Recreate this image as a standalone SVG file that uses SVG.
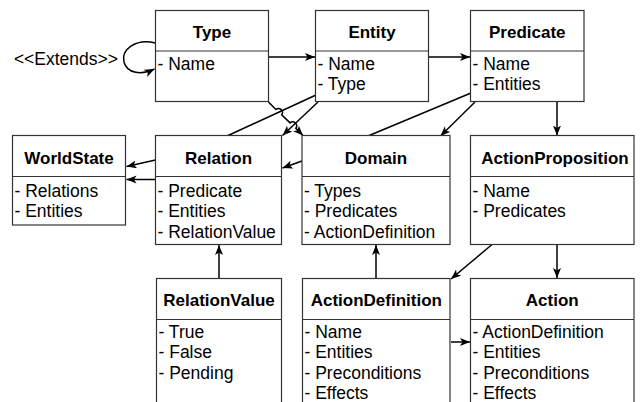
<svg xmlns="http://www.w3.org/2000/svg" width="644" height="402" viewBox="0 0 644 402">
<style>
.box{fill:#fff;stroke:#333;stroke-width:1.2}
.sep{stroke:#333;stroke-width:1.2}
.t{font-family:"Liberation Sans",Arial,sans-serif;font-size:17px;font-weight:bold;fill:#000;text-anchor:middle}
.i{font-family:"Liberation Sans",Arial,sans-serif;font-size:17.5px;fill:#000}
.c{fill:none;stroke:#000;stroke-width:1.5}
.a{marker-end:url(#arr)}
</style>
<defs>
<marker id="arr" markerUnits="userSpaceOnUse" markerWidth="12" markerHeight="10" refX="10" refY="4" orient="auto">
<path d="M0,0 L10,4 L0,8 L2.5,4 z" fill="#000"/>
</marker>
</defs>
<rect width="644" height="402" fill="#fff"/>
<g id="connectors">
<path class="c a" d="M155.5,43 C135,38 121,50 124,62 C127,74 142,75 154.5,69"/>
<path class="c a" d="M268.5,57 L315,57"/>
<path class="c a" d="M428.5,57 L470,57"/>
<path class="c" d="M316,95 L227,136"/>
<path class="c a" d="M318,102 L282.5,135.5"/>
<path class="c a" d="M268.5,102 L275.9,109.5 A4,4 0 0 1 281.7,114.9 L290.1,122.9 A4,4 0 0 1 295.9,128.3 L303,135.5"/>
<path class="c" d="M471,93 L368,136"/>
<path class="c a" d="M475,102 L440.5,136"/>
<path class="c a" d="M557,101.5 L557,135.5"/>
<path class="c a" d="M302,161 L282.5,168"/>
<path class="c a" d="M155.5,160 L126.5,166.5"/>
<path class="c a" d="M155.5,179.5 L126.5,179.5"/>
<path class="c a" d="M219,278.5 L219,245"/>
<path class="c a" d="M376,278.5 L376,245"/>
<path class="c a" d="M492,244.5 L451,279"/>
<path class="c a" d="M557,244.5 L557,278"/>
<path class="c a" d="M451,342 L470,342"/>
</g>
<text class="i" x="118" y="65" text-anchor="end">&lt;&lt;Extends&gt;&gt;</text>
<g id="Type">
<rect class="box" x="155.5" y="10.5" width="113" height="91"/>
<line class="sep" x1="155.5" y1="51" x2="268.5" y2="51"/>
<text class="t" x="212" y="38">Type</text>
<text class="i" x="157.5" y="70">- Name</text>
</g>
<g id="Entity">
<rect class="box" x="315.5" y="10.5" width="113" height="91"/>
<line class="sep" x1="315.5" y1="51" x2="428.5" y2="51"/>
<text class="t" x="372" y="38">Entity</text>
<text class="i" x="317.5" y="70">- Name</text>
<text class="i" x="317.5" y="90">- Type</text>
</g>
<g id="Predicate">
<rect class="box" x="470.5" y="10.5" width="113.5" height="91"/>
<line class="sep" x1="470.5" y1="51" x2="584" y2="51"/>
<text class="t" x="527.3" y="38">Predicate</text>
<text class="i" x="472.5" y="70">- Name</text>
<text class="i" x="472.5" y="90">- Entities</text>
</g>
<g id="WorldState">
<rect class="box" x="12.5" y="135.5" width="113" height="89.5"/>
<line class="sep" x1="12.5" y1="176.5" x2="125.5" y2="176.5"/>
<text class="t" x="69" y="164">WorldState</text>
<text class="i" x="14.5" y="196.5">- Relations</text>
<text class="i" x="14.5" y="217">- Entities</text>
</g>
<g id="Relation">
<rect class="box" x="155.5" y="135.5" width="126" height="109"/>
<line class="sep" x1="155.5" y1="176.5" x2="281.5" y2="176.5"/>
<text class="t" x="218.5" y="164">Relation</text>
<text class="i" x="157.5" y="196.5">- Predicate</text>
<text class="i" x="157.5" y="217">- Entities</text>
<text class="i" x="157.5" y="237.5">- RelationValue</text>
</g>
<g id="Domain">
<rect class="box" x="302" y="135.5" width="148" height="109"/>
<line class="sep" x1="302" y1="176.5" x2="450" y2="176.5"/>
<text class="t" x="376" y="164">Domain</text>
<text class="i" x="304" y="196.5">- Types</text>
<text class="i" x="304" y="217">- Predicates</text>
<text class="i" x="304" y="237.5">- ActionDefinition</text>
</g>
<g id="ActionProposition">
<rect class="box" x="470.5" y="135.5" width="163.5" height="109"/>
<line class="sep" x1="470.5" y1="176.5" x2="634" y2="176.5"/>
<text class="t" x="555" y="164">ActionProposition</text>
<text class="i" x="472.5" y="196.5">- Name</text>
<text class="i" x="472.5" y="217">- Predicates</text>
</g>
<g id="RelationValue">
<rect class="box" x="156.5" y="278.5" width="125" height="140"/>
<line class="sep" x1="156.5" y1="319.5" x2="281.5" y2="319.5"/>
<text class="t" x="219" y="306">RelationValue</text>
<text class="i" x="158.5" y="337.5">- True</text>
<text class="i" x="158.5" y="358">- False</text>
<text class="i" x="158.5" y="378.5">- Pending</text>
</g>
<g id="ActionDefinition">
<rect class="box" x="302.5" y="278.5" width="147.5" height="140"/>
<line class="sep" x1="302.5" y1="319.5" x2="450" y2="319.5"/>
<text class="t" x="376.3" y="306">ActionDefinition</text>
<text class="i" x="304.5" y="337.5">- Name</text>
<text class="i" x="304.5" y="358">- Entities</text>
<text class="i" x="304.5" y="378.5">- Preconditions</text>
<text class="i" x="304.5" y="399">- Effects</text>
</g>
<g id="Action">
<rect class="box" x="470.5" y="278.5" width="163.5" height="140"/>
<line class="sep" x1="470.5" y1="319.5" x2="634" y2="319.5"/>
<text class="t" x="552.3" y="306">Action</text>
<text class="i" x="472.5" y="337.5">- ActionDefinition</text>
<text class="i" x="472.5" y="358">- Entities</text>
<text class="i" x="472.5" y="378.5">- Preconditions</text>
<text class="i" x="472.5" y="399">- Effects</text>
</g>
</svg>
